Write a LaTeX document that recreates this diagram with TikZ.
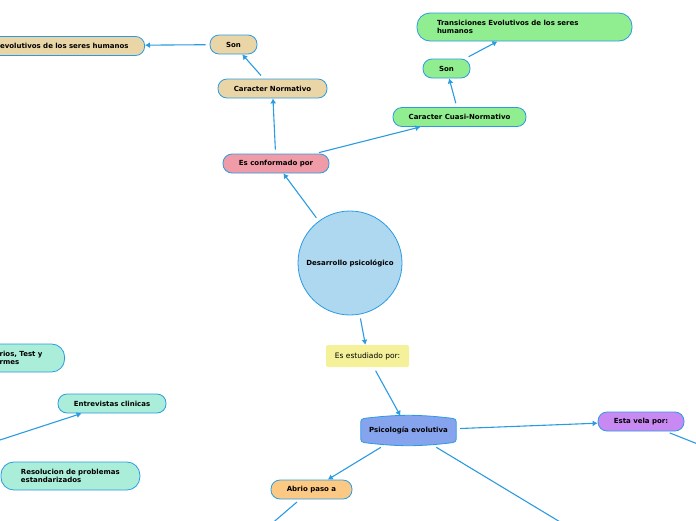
\documentclass[tikz,border=0pt]{standalone}
\usepackage{fontspec}
\setmainfont{DejaVu Sans}
\usetikzlibrary{arrows.meta,backgrounds}

\definecolor{linkblue}{RGB}{42,155,226}
\definecolor{circblue}{RGB}{173,216,240}
\definecolor{pinkc}{RGB}{240,156,168}
\definecolor{tanc}{RGB}{234,213,166}
\definecolor{greenc}{RGB}{144,238,144}
\definecolor{yellowc}{RGB}{244,241,154}
\definecolor{psicblue}{RGB}{134,163,238}
\definecolor{purplec}{RGB}{200,138,242}
\definecolor{orangec}{RGB}{252,201,132}
\definecolor{tealc}{RGB}{170,238,218}

\begin{document}
\begin{tikzpicture}[x=1pt,y=-1pt,
  every node/.style={font=\fontsize{7}{8.6}\selectfont\bfseries},
  idea/.style={draw=linkblue,line width=0.8pt,rounded corners=9pt,minimum height=19pt,inner xsep=6pt},
  twoline/.style={idea,rounded corners=13pt,minimum height=28pt,align=left},
  link/.style={draw=linkblue,line width=1.1pt,-{Latex[length=5pt,width=6pt]},shorten <=4pt}]
\clip (0,0) rectangle (696,520);

% centre
\node[idea,fill=circblue,circle,rounded corners=0pt,minimum size=104pt] (desa) at (350,263) {Desarrollo psicol\'ogico};

% upper branch
\node[idea,fill=pinkc,minimum width=106pt] (conf) at (276,163.5) {Es conformado por};
\node[idea,fill=tanc,minimum width=109pt] (norm) at (272.5,88.5) {Caracter Normativo};
\node[idea,fill=tanc,minimum width=47pt] (sonn) at (233.5,44.5) {Son};
\node[idea,fill=tanc,anchor=east,text width=190pt,align=right,inner xsep=16pt] (evol) at (145,46) {evolutivos de los seres humanos};
\node[idea,fill=greenc,minimum width=133pt] (cuasi) at (459.5,117) {Caracter Cuasi-Normativo};
\node[idea,fill=greenc,minimum width=47pt] (sonc) at (446.5,68.5) {Son};
\node[twoline,fill=greenc,text width=175pt,inner xsep=20pt] (trans) at (524.5,27) {Transiciones Evolutivos de los seres\\humanos};

% lower branch
\node[fill=yellowc,rounded corners=2pt,minimum width=83pt,minimum height=22pt,font=\fontsize{7.5}{9}\selectfont] (estu) at (367.5,356) {Es estudiado por:};
\node[minimum width=95pt,minimum height=29pt] (psic) at (408.5,430.5) {Psicolog\'ia evolutiva};
\begin{scope}[on background layer]
\path[fill=psicblue,draw=linkblue,line width=0.8pt,rounded corners=3pt]
  ([yshift=-3pt]psic.north west) to[bend left=7] ([yshift=-3pt]psic.north east)
  -- ([yshift=3pt]psic.south east) to[bend left=7] ([yshift=3pt]psic.south west) -- cycle;
\end{scope}
\node[idea,fill=purplec,minimum width=86pt] (vela) at (641,421.5) {Esta vela por:};
\node[idea,fill=orangec,minimum width=81pt] (abri) at (311.5,489.5) {Abrio paso a};
\node[idea,fill=tealc,minimum width=108pt] (entr) at (112,403.5) {Entrevistas clinicas};
\node[twoline,fill=tealc,anchor=west,text width=99pt,inner xsep=20pt] (reso) at (0.5,476) {Resolucion de problemas\\estandarizados};
\node[twoline,fill=tealc,anchor=east,text width=48pt,inner xsep=17pt] (test) at (65,358) {rios, Test y\\rmes};

% ends beyond the frame
\coordinate (off1) at (590,540);
\coordinate (off2) at (730,456.8);
\coordinate (off3) at (260,533.7);
\coordinate (off4) at (-40,453);

\draw[link] (sonn) -- (evol);
\draw[link] (norm) -- (sonn);
\draw[link] (conf) -- (norm);
\draw[link] (conf) -- (cuasi);
\draw[link] (desa) -- (conf);
\draw[link] (cuasi) -- (sonc);
\draw[link] (sonc) -- (trans);
\draw[link] (desa) -- (estu);
\draw[link] (estu) -- (psic);
\draw[link] (psic) -- (vela);
\draw[link] (psic) -- (abri);
\draw[link,-] (psic) -- (off1);
\draw[link,-] (vela) -- (off2);
\draw[link,-] (abri) -- (off3);
\draw[link] (off4) -- (entr);
\end{tikzpicture}
\end{document}
